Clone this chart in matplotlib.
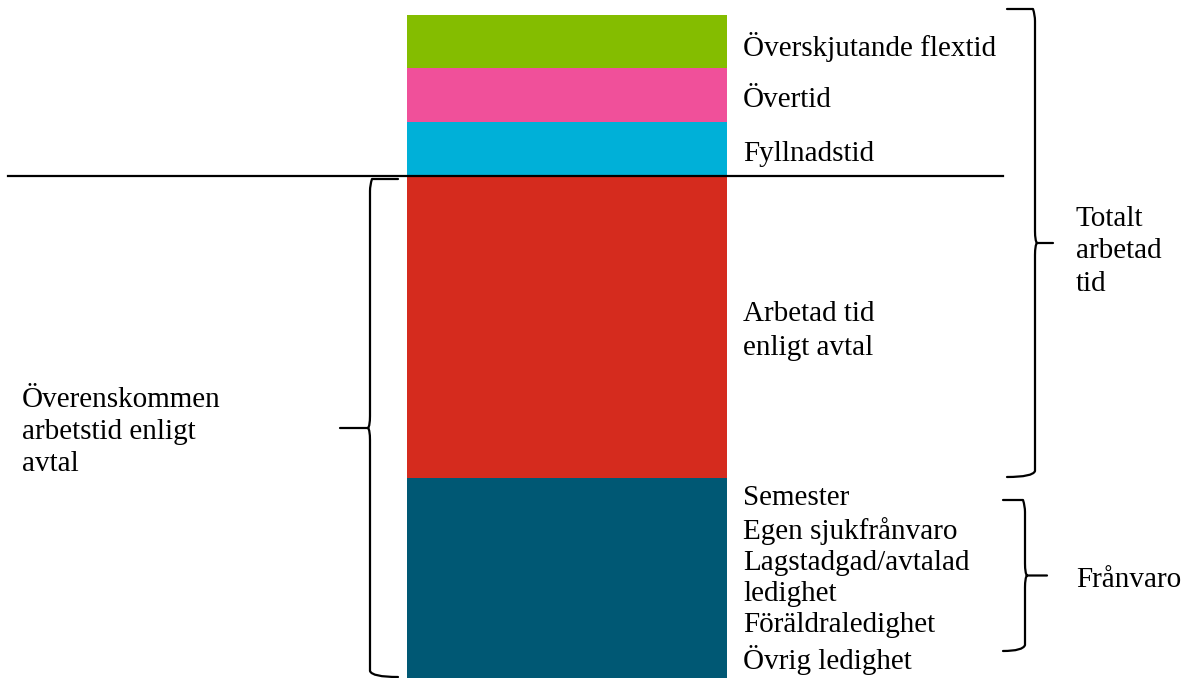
import numpy as np
import matplotlib.pyplot as plt
from matplotlib.path import Path
from matplotlib.patches import PathPatch

# delar av arbetstiden, nedifrån och upp (relativa enheter)
delar = ["Frånvaro", "Arbetad tid enligt avtal", "Fyllnadstid", "Övertid", "Överskjutande flextid"]
varden = [20.0, 30.2, 5.4, 5.4, 5.3]
farger = ["#005874", "#D52B1E", "#00B0D8", "#F0509A", "#84BD00"]
etiketter = ["Semester\nEgen sjukfrånvaro\nLagstadgad/avtalad\nledighet\nFöräldraledighet\nÖvrig ledighet",
             "Arbetad tid\nenligt avtal", "Fyllnadstid", "Övertid", "Överskjutande flextid"]

plt.rcParams['font.family'] = ['Liberation Serif', 'DejaVu Serif']

fig = plt.figure(figsize=(11.84, 6.78), dpi=100)
ax = fig.add_axes([0, 0, 1, 1])
ax.set_xlim(0, 1184)
ax.set_ylim(0, 67.8)
ax.axis('off')

xbar, wbar = 567, 320
botten = np.concatenate([[0], np.cumsum(varden)[:-1]])
ax.bar(xbar, varden, width=wbar, bottom=botten, color=farger, linewidth=0)

fs = 21
ls = 1.31
for i, (b, v) in enumerate(zip(botten, varden)):
    if i == 0:
        ax.text(743, b + v - 0.7, etiketter[i], fontsize=fs, va='top', ha='left', linespacing=1.26)
    elif i == 1:
        ax.text(743, b + v / 2 - 0.4, etiketter[i], fontsize=fs, va='center', ha='left', linespacing=1.42)
    else:
        ax.text(743, b + v / 2 - 0.5, etiketter[i], fontsize=fs, va='center', ha='left', linespacing=ls)

# linje vid avtalad arbetstid
avtal = varden[0] + varden[1]
ax.plot([8, 1003], [avtal, avtal], color='black', lw=1.6)


def klammer(x, y0, y1, riktning, djup=22, krok=28, lw=1.6):
    # klammer från y0 till y1, spets mot riktning (+1 höger, -1 vänster)
    ym = (y0 + y1) / 2
    s = riktning
    k = 0.6
    verts = [(x - s * krok, y0), (x - s * 2, y0), (x, y0 + k), (x, y0 + 1.2),
             (x, ym - 1.2), (x, ym - 0.2), (x + s * 2, ym), (x + s * djup, ym),
             (x + s * 2, ym), (x, ym + 0.2), (x, ym + 1.2),
             (x, y1 - 1.2), (x, y1 - k), (x - s * 2, y1), (x - s * krok, y1)]
    codes = [Path.MOVETO, Path.CURVE3, Path.CURVE3, Path.LINETO,
             Path.LINETO, Path.CURVE3, Path.CURVE3, Path.LINETO,
             Path.MOVETO, Path.CURVE3, Path.CURVE3,
             Path.LINETO, Path.CURVE3, Path.CURVE3, Path.LINETO]
    ax.add_patch(PathPatch(Path(verts, codes), fill=False, lw=lw, color='black',
                           capstyle='round', joinstyle='round'))


total = sum(varden)
# totalt arbetad tid: från toppen ner till botten av arbetad tid
klammer(1035, varden[0] + 0.1, total + 0.6, +1, djup=18, krok=28)
ax.text(1076, (varden[0] + total) / 2 - 0.5, "Totalt\narbetad\ntid", fontsize=fs,
        va='center', ha='left', linespacing=ls)

# frånvaro
klammer(1025, 2.7, 17.8, +1, djup=22, krok=22)
ax.text(1076, 9.8, "Frånvaro", fontsize=fs, va='center', ha='left')

# överenskommen arbetstid
klammer(370, 0.1, avtal - 0.3, -1, djup=30, krok=28)
ax.text(22, 24.6, "Överenskommen\narbetstid enligt\navtal", fontsize=fs,
        va='center', ha='left', linespacing=ls)

fig.savefig("out.png", dpi=100)
